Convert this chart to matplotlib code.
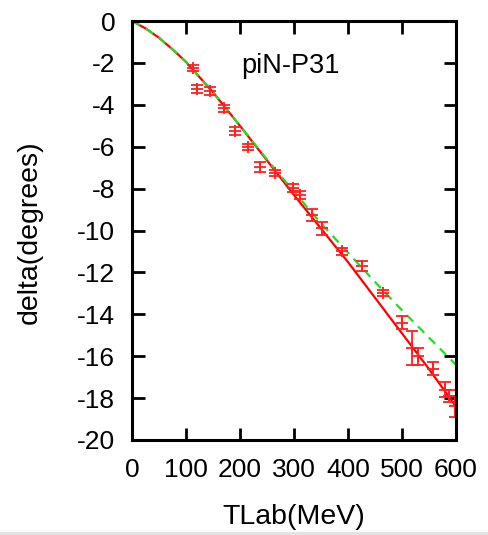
import matplotlib
matplotlib.use('Agg')
import matplotlib.pyplot as plt
from matplotlib.patches import Rectangle

plt.rcParams['font.family'] = ['Liberation Sans', 'DejaVu Sans']

# phase shift data (TLab in MeV, delta in degrees)
t_data = [113, 120, 144, 170, 191, 215, 237, 265, 298, 311, 333, 352, 389, 426, 465, 500, 519, 530, 558, 580, 588, 598]
d_data = [-2.24, -3.25, -3.34, -4.17, -5.25, -6.0, -6.96, -7.27, -7.98, -8.31, -9.26, -9.9, -11.0, -11.7, -13.0, -14.4, -15.6, -16.0, -16.6, -17.6, -17.9, -18.4]
d_err = [0.15, 0.2, 0.2, 0.15, 0.2, 0.15, 0.25, 0.15, 0.2, 0.2, 0.3, 0.3, 0.15, 0.25, 0.15, 0.3, 0.8, 0.4, 0.3, 0.35, 0.3, 0.5]

# fit curves
t_fit = [0, 25, 50, 75, 100, 150, 200, 250, 300, 350, 400, 450, 500, 550, 600]
d_red = [0, -0.35, -0.8, -1.35, -1.95, -3.4, -5.0, -6.65, -8.3, -9.9, -11.5, -13.2, -14.9, -16.6, -18.4]
d_green = [0, -0.35, -0.8, -1.35, -1.95, -3.4, -5.0, -6.6, -8.15, -9.65, -11.05, -12.45, -13.8, -15.1, -16.4]

xticks = [0, 100, 200, 300, 400, 500, 600]
yticks = [0, -2, -4, -6, -8, -10, -12, -14, -16, -18, -20]

fig = plt.figure(figsize=(4.88, 5.35), dpi=100)
ax = fig.add_axes([0.2705, 0.1776, 0.6635, 0.7831])

ax.plot(t_fit, d_red, color='#ff0000', lw=1.6)
ax.plot(t_fit, d_green, color='#22dd22', lw=1.6, ls=(0, (4, 3)))
ax.errorbar(t_data, d_data, yerr=d_err, fmt='+', color='#ff2020', ms=9, mew=1.3,
            elinewidth=1.3, capsize=4, capthick=1.3)

ax.text(202, -2.48, 'piN-P31', fontsize=19.5, ha='left', va='baseline')

ax.set_xlim(0, 600)
ax.set_ylim(-20, 0)
ax.set_xticks(xticks)
ax.set_yticks(yticks)
ax.set_xticklabels([str(v) for v in xticks])
ax.set_yticklabels([str(v) for v in yticks])
ax.tick_params(direction='in', length=9, width=2, labelsize=19, top=True, right=True, pad=12)
ax.tick_params(axis='x', pad=13)
for s in ax.spines.values():
    s.set_linewidth(2.2)

fig.text(0.602, 0.0336, 'TLab(MeV)', fontsize=20.5, ha='center', va='center')
fig.text(0.0615, 0.566, 'delta(degrees)', fontsize=20.5, ha='center', va='center', rotation=90)

# light grey strip at the bottom edge
fig.patches.append(Rectangle((0, 0), 1, 0.006, transform=fig.transFigure, color='#e4e4e4', zorder=-1))

fig.savefig('out.png', dpi=100)
